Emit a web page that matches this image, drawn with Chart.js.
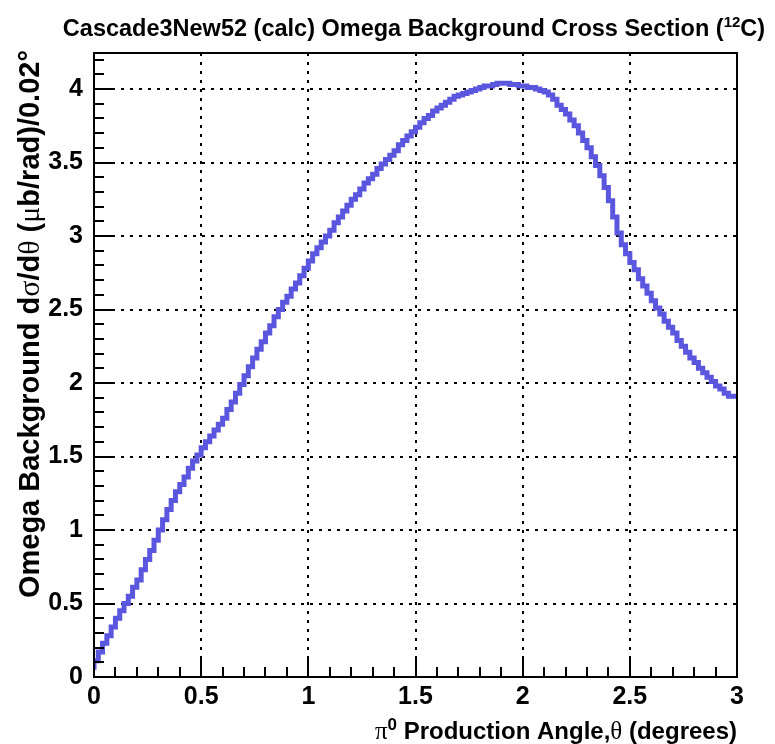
<!DOCTYPE html>
<html>
<head>
<meta charset="utf-8">
<script src="https://cdn.jsdelivr.net/npm/chart.js@4/dist/chart.umd.min.js"></script>
<style>
  html, body { margin: 0; padding: 0; background: #fff; }
  canvas { display: block; }
</style>
</head>
<body>
<canvas id="c" width="775" height="744"></canvas>
<script>
// histogram: 150 bins of 0.02 deg from 0 to 3
const xMin = 0
const xMax = 3
const binWidth = 0.02
const yMax = 4.245
const xTickStep = 0.5
const yTickStep = 0.5

const crossSection = [
  0.05, 0.11, 0.17, 0.23, 0.28, 0.34, 0.40, 0.45, 0.50, 0.55,
  0.61, 0.66, 0.73, 0.80, 0.86, 0.93, 1.00, 1.07, 1.14, 1.20,
  1.26, 1.31, 1.36, 1.42, 1.47, 1.51, 1.56, 1.60, 1.64, 1.68,
  1.72, 1.76, 1.82, 1.87, 1.93, 1.99, 2.05, 2.11, 2.17, 2.23,
  2.28, 2.34, 2.39, 2.45, 2.50, 2.55, 2.59, 2.64, 2.68, 2.73,
  2.78, 2.83, 2.88, 2.92, 2.96, 3.00, 3.04, 3.09, 3.13, 3.17,
  3.21, 3.25, 3.28, 3.32, 3.36, 3.39, 3.42, 3.46, 3.49, 3.52,
  3.55, 3.58, 3.62, 3.65, 3.68, 3.71, 3.74, 3.77, 3.80, 3.82,
  3.85, 3.87, 3.89, 3.91, 3.93, 3.95, 3.96, 3.97, 3.98, 3.99,
  4.00, 4.01, 4.02, 4.02, 4.03, 4.04, 4.04, 4.04, 4.03, 4.03,
  4.02, 4.02, 4.01, 4.01, 4.00, 3.99, 3.98, 3.96, 3.93, 3.89,
  3.86, 3.83, 3.79, 3.75, 3.70, 3.65, 3.60, 3.54, 3.48, 3.41,
  3.33, 3.24, 3.13, 3.02, 2.94, 2.88, 2.82, 2.77, 2.71, 2.66,
  2.61, 2.56, 2.51, 2.47, 2.42, 2.38, 2.34, 2.29, 2.25, 2.21,
  2.17, 2.14, 2.10, 2.07, 2.04, 2.01, 1.98, 1.96, 1.93, 1.91
]

// step points at bin low edges, closed at xMax
const points = crossSection.map((v, i) => ({ x: xMin + i * binWidth, y: v }))
points.push({ x: xMax, y: crossSection[crossSection.length - 1] })

const SANS = '"Liberation Sans", Arial, Helvetica, sans-serif'
const SERIF = '"Liberation Serif", "Times New Roman", serif'

// draw runs of text pieces with different fonts, left to right
function runWidth(ctx, runs) {
  let w = 0
  for (const r of runs) { ctx.font = r.font; w += ctx.measureText(r.t).width }
  return w
}
function drawRuns(ctx, runs, x, y) {
  for (const r of runs) {
    ctx.font = r.font
    ctx.fillText(r.t, x, y - (r.dy || 0))
    x += ctx.measureText(r.t).width
  }
}

const rootFrame = {
  id: 'rootFrame',
  afterDraw(chart) {
    const ctx = chart.ctx
    const { left, right, top, bottom } = chart.chartArea
    const xs = chart.scales.x, ys = chart.scales.y
    ctx.save()
    ctx.strokeStyle = '#000'
    ctx.lineWidth = 2
    ctx.strokeRect(left, top, right - left, bottom - top)

    // inward ticks, ROOT style
    ctx.beginPath()
    for (let k = 0; k <= 30; k++) {
      const px = Math.round(xs.getPixelForValue(k * 0.1))
      const len = k % 5 === 0 ? 19 : 10
      ctx.moveTo(px, bottom); ctx.lineTo(px, bottom - len)
    }
    for (let k = 0; k <= 42; k++) {
      const py = Math.round(ys.getPixelForValue(k * 0.1))
      const len = k % 5 === 0 ? 21 : 10
      ctx.moveTo(left, py); ctx.lineTo(left + len, py)
    }
    ctx.stroke()

    ctx.fillStyle = '#000'
    ctx.textBaseline = 'alphabetic'
    ctx.textAlign = 'left'

    // title
    const title = [
      { t: 'Cascade3New52 (calc) Omega Background Cross Section (', font: 'bold 23.5px ' + SANS },
      { t: '12', font: 'bold 15px ' + SANS, dy: 9 },
      { t: 'C)', font: 'bold 23.5px ' + SANS }
    ]
    const tw = runWidth(ctx, title)
    drawRuns(ctx, title, 414 - tw / 2, 36)

    // x axis title
    const xt = [
      { t: 'π', font: '25px ' + SERIF },
      { t: '0', font: 'bold 17px ' + SANS, dy: 9 },
      { t: ' Production Angle,', font: 'bold 24px ' + SANS },
      { t: 'θ', font: '25px ' + SERIF },
      { t: ' (degrees)', font: 'bold 24px ' + SANS }
    ]
    const xw = runWidth(ctx, xt)
    drawRuns(ctx, xt, 737 - xw, 739)

    // y axis title, rotated
    const yt = [
      { t: 'Omega Background d', font: 'bold 29px ' + SANS },
      { t: 'σ', font: '30px ' + SERIF },
      { t: '/d', font: 'bold 29px ' + SANS },
      { t: 'θ', font: '30px ' + SERIF },
      { t: ' (', font: 'bold 29px ' + SANS },
      { t: 'μ', font: '30px ' + SERIF },
      { t: 'b/rad)/0.02', font: 'bold 29px ' + SANS },
      { t: '°', font: 'bold 29px ' + SANS }
    ]
    const yw = runWidth(ctx, yt)
    ctx.translate(39, 50)
    ctx.rotate(-Math.PI / 2)
    drawRuns(ctx, yt, -yw, 0)
    ctx.restore()
  }
}

const keepSteps = step => s => {
  s.ticks = s.ticks.filter(t => Math.abs(t.value / step - Math.round(t.value / step)) < 1e-6)
}
const plainNumber = v => String(Math.round(v * 10) / 10)

new Chart(document.getElementById('c'), {
  type: 'line',
  data: {
    datasets: [{
      data: points,
      stepped: 'after',
      borderColor: '#5b56de',
      borderWidth: 5,
      borderJoinStyle: 'miter',
      pointRadius: 0,
      fill: false
    }]
  },
  options: {
    responsive: false,
    animation: false,
    devicePixelRatio: 1,
    layout: { padding: { top: 53, right: 38, left: 0, bottom: 0 } },
    plugins: { legend: { display: false }, tooltip: { enabled: false } },
    scales: {
      x: {
        type: 'linear', min: xMin, max: xMax,
        afterFit: s => { s.height = 67 },
        afterBuildTicks: keepSteps(xTickStep),
        ticks: {
          stepSize: xTickStep, autoSkip: false, maxRotation: 0, padding: 5,
          color: '#000', font: { family: SANS, size: 25, weight: 'bold' },
          callback: plainNumber
        },
        grid: { color: '#000', lineWidth: 2, drawTicks: false },
        border: { display: false, dash: [3, 6] }
      },
      y: {
        type: 'linear', min: 0, max: yMax,
        afterFit: s => { s.width = 94 },
        afterBuildTicks: keepSteps(yTickStep),
        ticks: {
          stepSize: yTickStep, autoSkip: false, padding: 11,
          color: '#000', font: { family: SANS, size: 25, weight: 'bold' },
          callback: plainNumber
        },
        grid: { color: '#000', lineWidth: 2, drawTicks: false },
        border: { display: false, dash: [3, 6] }
      }
    }
  },
  plugins: [rootFrame]
})
</script>
</body>
</html>
